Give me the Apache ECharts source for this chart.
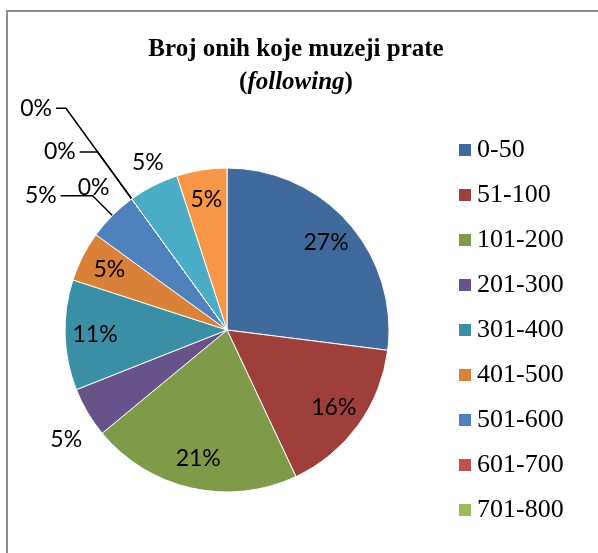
<!DOCTYPE html>
<html>
<head>
<meta charset="utf-8">
<script src="https://cdn.jsdelivr.net/npm/echarts@6/dist/echarts.min.js"></script>
<style>
    html, body { margin: 0; padding: 0; background: #fff; }
    #chart { width: 598px; height: 553px; }
</style>
</head>
<body>
<div id="chart"></div>
<script>
// Categories (legend shows only the first nine, the rest is cut off)
var categories = ['0-50', '51-100', '101-200', '201-300', '301-400', '401-500',
    '501-600', '601-700', '701-800', '801-900', '901-1000', '1001+'];
var legendNames = categories.slice(0, 9);

// Share in percent
var shares = [27, 16, 21, 5, 11, 5, 5, 0, 0, 0, 5, 5];

// Slice colours
var sliceColors = [
    '#416A9C', '#9E3F3C', '#7F9B4A', '#67528A', '#3A8FA5', '#D98139',
    '#4F81BD', '#C0504D', '#9BBB59', '#8064A2', '#4BACC6', '#F79646'
];

// Label placement per slice: inside, or outside with leader line lengths
var labelSpec = [
    { pos: 'inside' }, { pos: 'inside' }, { pos: 'inside' },
    { pos: 'outside', len: 54, len2: -45, line: false },
    { pos: 'inside' }, { pos: 'inside' },
    { pos: 'outside', len: 28, len2: 32, line: true },
    { pos: 'outside', len: 14, len2: 10, line: false },
    { pos: 'outside', len: 58, len2: 18, line: true },
    { pos: 'outside', len: 112, len2: 10, line: true },
    { pos: 'outside', len: 26, len2: -26, line: false },
    { pos: 'inside' }
];

var chartDom = document.getElementById('chart');
var chart = echarts.init(chartDom);

var pieData = categories.map(function(name, i) {
    return { name: name, value: shares[i], itemStyle: { color: sliceColors[i] } };
});

var labelData = categories.map(function(name, i) {
    var s = labelSpec[i];
    var item = {
        name: name,
        value: shares[i],
        label: { position: s.pos }
    };
    if (s.pos === 'outside') {
        item.labelLine = { show: s.line, length: s.len, length2: s.len2 };
    } else {
        item.labelLine = { show: false };
    }
    return item;
});

var options = {
    backgroundColor: '#fff',
    animation: false,

    title: {
        text: '{b|Broj onih koje muzeji prate}\n{b|(}{i|following}{b|)}',
        left: 291,
        top: 28,
        textAlign: 'center',
        textStyle: {
            rich: {
                b: { fontFamily: 'Liberation Serif', fontWeight: 'bold', fontSize: 25, color: '#000', lineHeight: 33 },
                i: { fontFamily: 'Liberation Serif', fontWeight: 'bold', fontStyle: 'italic', fontSize: 25, color: '#000', lineHeight: 33 }
            }
        }
    },

    legend: {
        orient: 'vertical',
        left: 457,
        top: 137,
        padding: 0,
        itemGap: 19,
        itemWidth: 14,
        itemHeight: 14,
        icon: 'rect',
        data: legendNames,
        textStyle: {
            fontFamily: 'Liberation Serif',
            fontSize: 26,
            lineHeight: 26,
            color: '#000'
        }
    },

    graphic: [{
        type: 'rect',
        silent: true,
        shape: { x: 7, y: 11, width: 700, height: 700 },
        style: { fill: 'none', stroke: '#8c8c8c', lineWidth: 2 }
    }],

    series: [{
        // visible pie
        name: 'pie',
        type: 'pie',
        center: [227, 330],
        radius: [0, 162],
        startAngle: 90,
        clockwise: true,
        avoidLabelOverlap: false,
        silent: true,
        label: { show: false },
        labelLine: { show: false },
        itemStyle: { borderColor: '#fff', borderWidth: 1 },
        data: pieData
    }, {
        // transparent ring that only carries the percent labels
        name: 'labels',
        type: 'pie',
        center: [227, 330],
        radius: [96, 162],
        startAngle: 90,
        clockwise: true,
        avoidLabelOverlap: false,
        silent: true,
        itemStyle: { color: 'rgba(0,0,0,0)' },
        label: {
            show: true,
            formatter: function(p) { return Math.round(p.percent) + '%'; },
            fontFamily: 'Lato',
            fontSize: 23,
            color: '#000',
            distanceToLabelLine: 4
        },
        labelLine: {
            lineStyle: { color: '#000', width: 1.5 }
        },
        labelLayout: { hideOverlap: false },
        data: labelData
    }]
};

chart.setOption(options);
</script>
</body>
</html>
